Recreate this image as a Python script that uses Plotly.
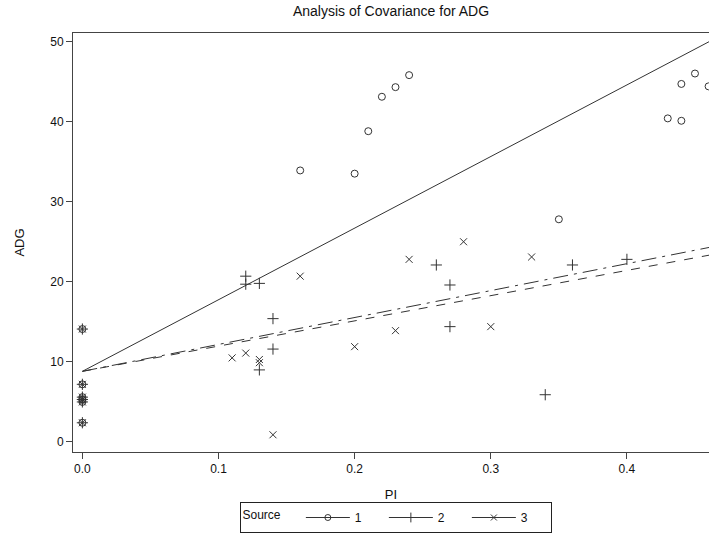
import plotly.graph_objects as go

# ---- data ----
zero_pi = [0.0, 0.0, 0.0, 0.0, 0.0, 0.0]
zero_adg = [14.1, 7.2, 5.6, 5.3, 5.0, 2.4]

pi_1 = [0.16, 0.20, 0.21, 0.22, 0.23, 0.24, 0.35, 0.43, 0.44, 0.44, 0.45, 0.46]
adg_1 = [33.9, 33.5, 38.8, 43.1, 44.3, 45.8, 27.8, 40.4, 40.1, 44.7, 46.0, 44.4]

pi_2 = [0.12, 0.12, 0.13, 0.13, 0.14, 0.14, 0.26, 0.27, 0.27, 0.34, 0.36, 0.40]
adg_2 = [20.7, 19.7, 19.8, 9.0, 15.4, 11.6, 22.1, 19.6, 14.4, 5.9, 22.1, 22.8]

pi_3 = [0.11, 0.12, 0.13, 0.13, 0.14, 0.16, 0.20, 0.23, 0.24, 0.28, 0.30, 0.33]
adg_3 = [10.5, 11.1, 10.3, 9.9, 0.9, 20.7, 11.9, 13.9, 22.8, 25.0, 14.4, 23.1]

intercept = 8.82
slopes = {"1": 89.4, "2": 31.5, "3": 33.6}
line_x = [0.0, 0.48]

x_ticks = [0.0, 0.1, 0.2, 0.3, 0.4]
x_tick_labels = ["0.0", "0.1", "0.2", "0.3", "0.4"]
y_ticks = [0, 10, 20, 30, 40, 50]

FONT = "Liberation Sans, Arial, sans-serif"
INK = "#333333"
TXT = "#111111"

groups = [
    ("1", pi_1, adg_1, "circle-open", "solid", 7),
    ("2", pi_2, adg_2, "cross-thin-open", "dash", 8),
    ("3", pi_3, adg_3, "x-thin-open", "longdashdot", 7),
]

fig = go.Figure()
for name, xs, ys, sym, dash, msize in groups:
    xx = zero_pi + xs
    yy = zero_adg + ys
    fig.add_trace(go.Scatter(
        x=xx, y=yy, mode="markers", name=name, legendgroup=name,
        showlegend=False,
        marker=dict(symbol=sym, size=msize, color=INK, line=dict(width=1, color=INK)),
        cliponaxis=False,
    ))
    ly = [intercept + slopes[name] * v for v in line_x]
    fig.add_trace(go.Scatter(
        x=line_x, y=ly, mode="lines", name=name, legendgroup=name,
        showlegend=False,
        line=dict(color=INK, width=1, dash=dash),
    ))
    # legend entry: line + marker
    fig.add_trace(go.Scatter(
        x=[None], y=[None], mode="lines+markers", name=name,
        legendgroup=name,
        marker=dict(symbol=sym, size=msize - 1, color=INK, line=dict(width=1, color=INK)),
        line=dict(color=INK, width=1, dash="solid"),
    ))

fig.update_layout(
    width=709, height=536,
    margin=dict(l=73, r=0, t=33, b=84, autoexpand=False),
    paper_bgcolor="white", plot_bgcolor="white",
    font=dict(family=FONT, size=12, color=TXT),
    title=dict(text="Analysis of Covariance for ADG", x=0.5, xref="paper",
               xanchor="center", y=1 - 11/536, yanchor="middle",
               font=dict(family=FONT, size=14, color=TXT)),
    xaxis=dict(
        range=[-0.0069, 0.4603], tickvals=x_ticks, ticktext=x_tick_labels,
        showgrid=False, zeroline=False, showline=True, mirror=True,
        linecolor="#444444", linewidth=1, ticks="outside", ticklen=6,
        tickcolor="#444444", tickfont=dict(size=12),
        title=dict(text="PI", font=dict(size=13), standoff=20),
    ),
    yaxis=dict(
        range=[-1.25, 51.06], tickvals=y_ticks,
        showgrid=False, zeroline=False, showline=True, mirror=False,
        linecolor="#444444", linewidth=1, ticks="outside", ticklen=6,
        tickcolor="#444444", tickfont=dict(size=12),
        title=dict(text="ADG", font=dict(size=13), standoff=22),
    ),
    legend=dict(
        orientation="h", xref="container", yref="container",
        x=395.5/709, xanchor="center", y=3/536, yanchor="bottom",
        bordercolor="#222222", borderwidth=1, bgcolor="white",
        title=dict(text="Source\u00a0\u00a0\u00a0\u00a0", font=dict(size=12), side="left"),
        font=dict(size=12), itemwidth=44, entrywidth=24, valign="middle",
        tracegroupgap=0,
    ),
)

fig.write_html(
    "out.html",
    config={"displayModeBar": False},
    post_script="document.body.style.margin='0';document.body.style.overflow='hidden';",
)
